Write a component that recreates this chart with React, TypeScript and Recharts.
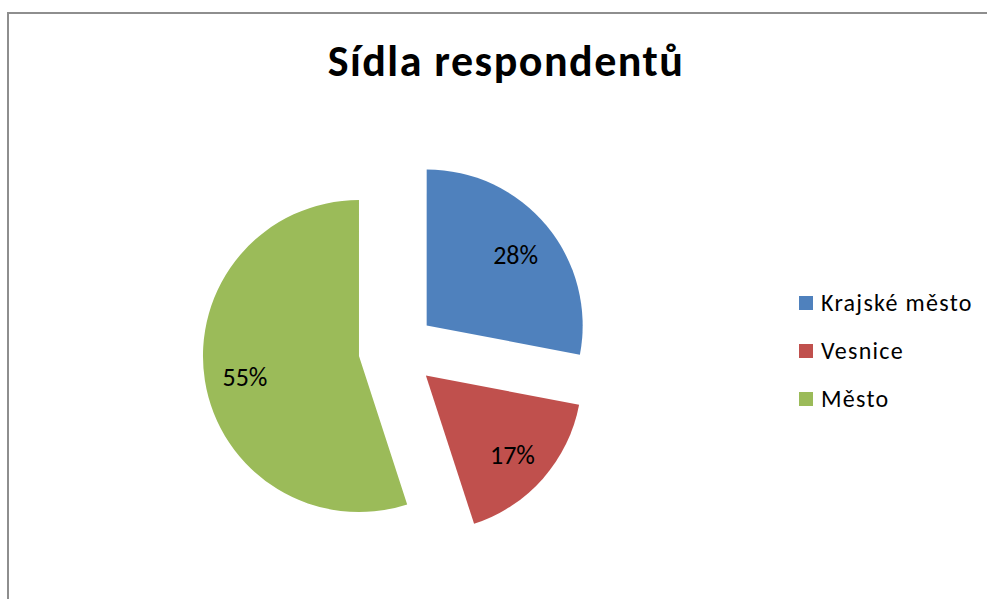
import React from "react";
import { PieChart, Pie, Cell, Legend, Sector } from "recharts";

const categories = ["Krajské město", "Vesnice", "Město"];
const shares = [28, 17, 55];
const colors = ["#4F81BD", "#C0504D", "#9BBB59"];
const title = "Sídla respondentů";

const data = categories.map((name, i) => ({ name, value: shares[i] }));

const RAD = Math.PI / 180;
const EXPLODE = 38.5;
const FONT = "Carlito, Calibri, 'Open Sans', sans-serif";

const ExplodedSector = (props: any) => {
  const { cx, cy, midAngle, innerRadius, outerRadius, startAngle, endAngle, fill } = props;
  const dx = EXPLODE * Math.cos(-midAngle * RAD);
  const dy = EXPLODE * Math.sin(-midAngle * RAD);
  return (
    <Sector
      cx={cx + dx}
      cy={cy + dy}
      innerRadius={innerRadius}
      outerRadius={outerRadius}
      startAngle={startAngle}
      endAngle={endAngle}
      fill={fill}
      stroke="none"
    />
  );
};

const renderLabel = (props: any) => {
  const { cx, cy, midAngle, outerRadius, percent } = props;
  const ox = cx + EXPLODE * Math.cos(-midAngle * RAD);
  const oy = cy + EXPLODE * Math.sin(-midAngle * RAD);
  const r = outerRadius * 0.74;
  const x = ox + r * Math.cos(-midAngle * RAD);
  const y = oy + r * Math.sin(-midAngle * RAD) + 3;
  return (
    <text
      x={x}
      y={y}
      fill="#000"
      textAnchor="middle"
      dominantBaseline="central"
      style={{ fontFamily: FONT, fontSize: 26 }}
    >
      {`${Math.round(percent * 100)}%`}
    </text>
  );
};

const renderLegend = (props: any) => {
  const payload = [...(props.payload || [])].sort(
    (a: any, b: any) => categories.indexOf(a.value) - categories.indexOf(b.value)
  );
  return (
    <div style={{ fontFamily: FONT, fontSize: 24, letterSpacing: 1.3, color: "#000" }}>
      {payload.map((entry: any, i: number) => (
        <div
          key={i}
          style={{ display: "flex", alignItems: "center", height: 48, lineHeight: "48px" }}
        >
          <span
            style={{
              display: "inline-block",
              width: 14,
              height: 14,
              background: entry.color,
              marginRight: 8,
            }}
          />
          <span>{entry.value}</span>
        </div>
      ))}
    </div>
  );
};

export default function App() {
  return (
    <div
      style={{
        position: "absolute",
        left: 0,
        top: 0,
        width: 987,
        height: 599,
        overflow: "hidden",
        background: "#fff",
      }}
    >
      <div
        style={{
          position: "absolute",
          left: 7,
          top: 12,
          width: 1000,
          height: 620,
          border: "2px solid #8e8e8e",
          boxSizing: "border-box",
        }}
      />
      <svg
        width={987}
        height={120}
        style={{ position: "absolute", left: 0, top: 0 }}
      >
        <text
          x={506}
          y={76}
          textAnchor="middle"
          fill="#000"
          style={{ fontFamily: FONT, fontWeight: "bold", fontSize: 44, letterSpacing: 1.5 }}
        >
          {title}
        </text>
      </svg>
      <div style={{ position: "absolute", left: 0, top: 0 }}>
        <PieChart width={987} height={599} margin={{ top: 0, right: 0, bottom: 0, left: 0 }}>
          <Pie
            data={data}
            dataKey="value"
            nameKey="name"
            cx={397}
            cy={350}
            outerRadius={156}
            startAngle={90}
            endAngle={-270}
            stroke="none"
            isAnimationActive={false}
            shape={ExplodedSector}
            activeShape={ExplodedSector}
            inactiveShape={ExplodedSector}
            label={renderLabel}
            labelLine={false}
          >
            {data.map((d, i) => (
              <Cell key={d.name} fill={colors[i]} />
            ))}
          </Pie>
          <Legend
            layout="vertical"
            content={renderLegend}
            wrapperStyle={{ position: "absolute", left: 799, top: 279, width: 190 }}
          />
        </PieChart>
      </div>
    </div>
  );
}
